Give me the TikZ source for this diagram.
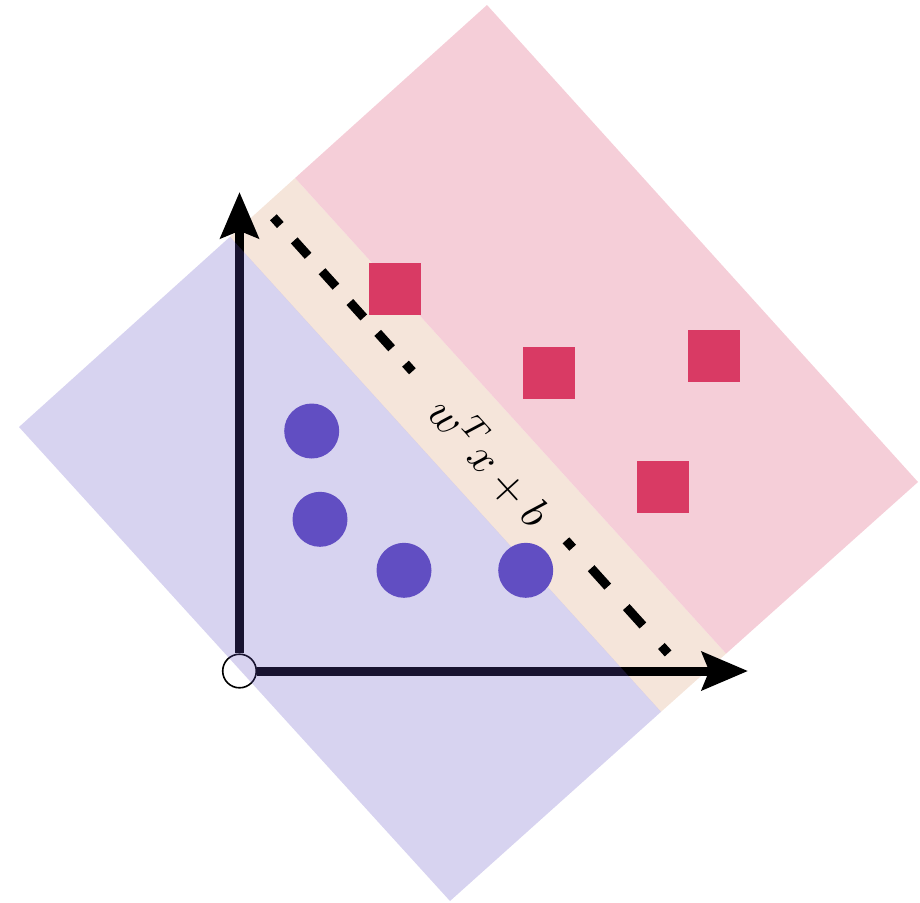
\documentclass[tikz,border=0pt]{standalone}
\usetikzlibrary{arrows.meta}
\definecolor{sqcol}{RGB}{217,58,100}
\definecolor{circcol}{RGB}{97,78,194}
\definecolor{bandbeige}{RGB}{245,229,218}
\definecolor{bandpink}{RGB}{245,206,216}
\begin{document}
\begin{tikzpicture}[x=0.25pt,y=-0.25pt,
  axis/.style={line width=2.25pt, black, -{Stealth[length=11.5pt,width=9.5pt,inset=1.8pt]}},
  sqmark/.style={rectangle, fill=sqcol, minimum size=13pt, inner sep=0pt},
  dotmark/.style={circle, fill=circcol, minimum size=13.75pt, inner sep=0pt},
  sepline/.style={line width=2.25pt, black},
  lbl/.style={font=\fontsize{11}{13}\selectfont, inner sep=0pt, rotate=-47.85}
]
\useasboundingbox (0,0) rectangle (920,902);
% outer rotated rectangle and band boundaries
\coordinate (T) at (487,5);
\coordinate (R) at (918,482);
\coordinate (B) at (450,901);
\coordinate (L) at (19,427);
\coordinate (PA) at (295.1,178);
\coordinate (PB) at (726.1,653.6);
\coordinate (QA) at (230,236.8);
\coordinate (QB) at (661,711.8);
% bands
\fill[bandbeige] (PA) -- (PB) -- (QB) -- (QA) -- cycle;
\fill[bandpink] (T) -- (R) -- (PB) -- (PA) -- cycle;
% axes
\node[circle, draw=black, fill=white, line width=0.4pt, minimum size=8.4pt, inner sep=0pt] (O) at (239.5,671) {};
\coordinate (ytip) at (239.5,192);
\coordinate (xtip) at (748,671);
\draw[axis] (O) -- (ytip);
\draw[axis] (O) -- (xtip);
% purple band on top (translucent)
\fill[circcol, fill opacity=0.25] (QA) -- (QB) -- (B) -- (L) -- cycle;
% markers
\node[sqmark] (s1) at (395,289) {};
\node[sqmark] (s2) at (549,373) {};
\node[sqmark] (s3) at (714,356) {};
\node[sqmark] (s4) at (663,487) {};
\node[dotmark] (c1) at (311.7,431) {};
\node[dotmark] (c2) at (320,519.3) {};
\node[dotmark] (c3) at (404,570.3) {};
\node[dotmark] (c4) at (525.7,570.3) {};
% separating line
\coordinate (d1) at (273.35,217.3);
\coordinate (d2) at (412.4,371.3);
\coordinate (d3) at (565.95,540.3);
\coordinate (d4) at (668.1,653.4);
\draw[sepline, dash pattern=on 5.19pt off 5.19pt, dash phase=2.6pt] (d1) -- (d2);
\draw[sepline, dash pattern=on 6.2pt off 6.9pt, dash phase=3.7pt] (d3) -- (d4);
\node[lbl] (lab) at (491,461) {$w^T x + b$};
\end{tikzpicture}
\end{document}
